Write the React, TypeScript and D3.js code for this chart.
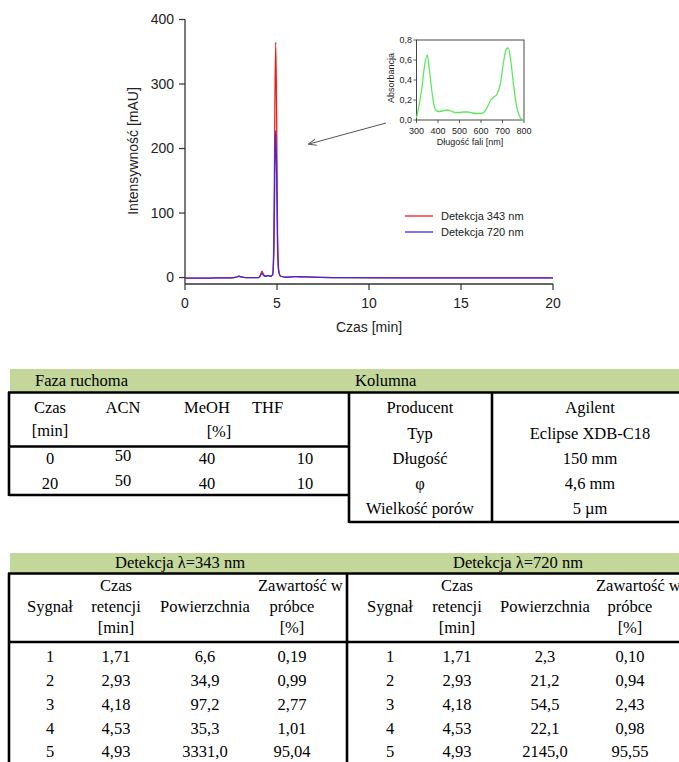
import React from "react";
import * as d3 from "d3";

// ---------- Chromatogram data ----------
const timeMin = [0, 1, 1.71, 2.5, 2.8, 2.93, 3.05, 3.3, 4.0, 4.1, 4.18, 4.28, 4.4, 4.53, 4.65, 4.76, 4.83, 4.88, 4.93, 4.98, 5.03, 5.1, 5.2, 5.5, 6.0, 6.5, 8.0, 12, 20];
const sig343 = [-1, -1, -0.5, -0.5, 0.5, 2, 1, 0, 0, 4, 10, 4, 2, 3, 2, 4, 60, 250, 365, 250, 70, 10, 2, 0.5, 1.5, 1, 0, -0.5, -0.5];
const sig720 = [-1, -1, -0.5, -0.5, 0.5, 2, 1, 0, 0, 3, 7, 3, 2, 3, 2, 4, 40, 160, 228, 160, 45, 8, 2, 0.5, 1.5, 1, 0, -0.5, -0.5];
const yTicks = [0, 100, 200, 300, 400];
const xTicks = [0, 5, 10, 15, 20];
const seriesNames = ["Detekcja 343 nm", "Detekcja 720 nm"];

// ---------- Inset spectrum ----------
const waveNm = [300, 312, 325, 338, 350, 360, 372, 385, 400, 420, 440, 460, 480, 500, 520, 540, 560, 580, 600, 615, 630, 645, 660, 675, 690, 705, 718, 726, 738, 750, 762, 775, 788, 800];
const absorb = [0.02, 0.15, 0.32, 0.55, 0.65, 0.5, 0.28, 0.12, 0.085, 0.09, 0.1, 0.09, 0.075, 0.075, 0.08, 0.08, 0.07, 0.065, 0.065, 0.08, 0.13, 0.2, 0.23, 0.26, 0.36, 0.58, 0.71, 0.72, 0.6, 0.38, 0.18, 0.06, 0.01, 0];
const insetYTicks = [0, 0.2, 0.4, 0.6, 0.8];
const insetXTicks = [300, 400, 500, 600, 700, 800];

// ---------- Table 1 ----------
const mobileHead = ["Czas", "ACN", "MeOH", "THF"];
const mobileRows = [["0", "50", "40", "10"], ["20", "50", "40", "10"]];
const columnKeys = ["Producent", "Typ", "Długość", "φ", "Wielkość porów"];
const columnVals = ["Agilent", "Eclipse XDB-C18", "150 mm", "4,6 mm", "5 µm"];

// ---------- Table 2 ----------
const det343 = [["1", "1,71", "6,6", "0,19"], ["2", "2,93", "34,9", "0,99"], ["3", "4,18", "97,2", "2,77"], ["4", "4,53", "35,3", "1,01"], ["5", "4,93", "3331,0", "95,04"]];
const det720 = [["1", "1,71", "2,3", "0,10"], ["2", "2,93", "21,2", "0,94"], ["3", "4,18", "54,5", "2,43"], ["4", "4,53", "22,1", "0,98"], ["5", "4,93", "2145,0", "95,55"]];

const RED = "#f01c1c";
const BLUE = "#3a2be0";
const GREEN_HDR = "#c4d79b";
const SANS = "'Liberation Sans', Arial, sans-serif";
const SERIF = "'Liberation Serif', 'Times New Roman', serif";

export default function App() {
  const x = d3.scaleLinear().domain([0, 20]).range([185, 553]);
  const y = d3.scaleLinear().domain([-10, 400]).range([284, 19.5]);
  const line = d3
    .line<number>()
    .x((_, i) => x(timeMin[i]))
    .curve(d3.curveMonotoneX);
  const red = line.y((d) => y(d))(sig343) as string;
  const blue = line.y((d) => y(d))(sig720) as string;

  const ix = d3.scaleLinear().domain([300, 800]).range([416.5, 524]);
  const iy = d3.scaleLinear().domain([0, 0.8]).range([120, 40]);
  const spec = d3
    .line<number>()
    .x((_, i) => ix(waveNm[i]))
    .y((d) => iy(d))
    .curve(d3.curveMonotoneX)(absorb) as string;
  const fmt = (v: number) => v.toFixed(1).replace(".", ",");

  const tStyle = { fontFamily: SERIF, fontSize: 16.5, fill: "#000" } as const;
  const bw = 2.6;

  const t2cols = [50, 116, 205, 292];
  const t2colsR = [390, 457, 545, 630];
  const t2rowsY = [657, 681, 705, 729, 752];

  return (
    <svg width={679} height={762} style={{ position: "absolute", left: 0, top: 0, background: "#fff" }}>
      <defs>
        <clipPath id="clipL">
          <rect x={0} y={540} width={345} height={230} />
        </clipPath>
        <marker id="arr" viewBox="0 0 10 10" refX={9} refY={5} markerWidth={8} markerHeight={8} orient="auto">
          <path d="M0,1 L10,5 L0,9" fill="none" stroke="#555" strokeWidth={1.2} />
        </marker>
      </defs>

      {/* ---------- Chromatogram ---------- */}
      <g fontFamily={SANS} fill="#222">
        <line x1={185} x2={185} y1={19.5} y2={284} stroke="#333" strokeWidth={1.3} />
        <line x1={185} x2={553} y1={284} y2={284} stroke="#333" strokeWidth={1.3} />
        {yTicks.map((t) => (
          <g key={t}>
            <line x1={179} x2={185} y1={y(t)} y2={y(t)} stroke="#333" strokeWidth={1.2} />
            <text x={174} y={y(t)} dy="0.35em" textAnchor="end" fontSize={14}>
              {t}
            </text>
          </g>
        ))}
        {xTicks.map((t) => (
          <g key={t}>
            <line x1={x(t)} x2={x(t)} y1={284} y2={290} stroke="#333" strokeWidth={1.2} />
            <text x={x(t)} y={303} dy="0.35em" textAnchor="middle" fontSize={14}>
              {t}
            </text>
          </g>
        ))}
        <text x={369} y={327} dy="0.35em" textAnchor="middle" fontSize={14}>
          Czas [min]
        </text>
        <text transform="translate(133,151) rotate(-90)" dy="0.35em" textAnchor="middle" fontSize={14}>
          Intensywność [mAU]
        </text>
        <path d={red} fill="none" stroke={RED} strokeWidth={1.3} />
        <path d={blue} fill="none" stroke={BLUE} strokeWidth={1.3} />

        {/* legend */}
        <line x1={405} x2={433} y1={216} y2={216} stroke={RED} strokeWidth={1.3} />
        <text x={441} y={216} dy="0.35em" fontSize={11}>
          {seriesNames[0]}
        </text>
        <line x1={405} x2={433} y1={232} y2={232} stroke={BLUE} strokeWidth={1.3} />
        <text x={441} y={232} dy="0.35em" fontSize={11}>
          {seriesNames[1]}
        </text>

        {/* arrow */}
        <line x1={386} y1={123} x2={309} y2={144} stroke="#555" strokeWidth={1} markerEnd="url(#arr)" />

        {/* inset */}
        <rect x={416.5} y={40} width={107.5} height={80} fill="none" stroke="#333" strokeWidth={0.9} />
        {insetYTicks.map((t) => (
          <g key={t}>
            <line x1={413.5} x2={416.5} y1={iy(t)} y2={iy(t)} stroke="#333" strokeWidth={0.8} />
            <text x={412} y={iy(t)} dy="0.35em" textAnchor="end" fontSize={9}>
              {fmt(t)}
            </text>
          </g>
        ))}
        {insetXTicks.map((t) => (
          <g key={t}>
            <line x1={ix(t)} x2={ix(t)} y1={120} y2={123} stroke="#333" strokeWidth={0.8} />
            <text x={ix(t)} y={131} dy="0.35em" textAnchor="middle" fontSize={9}>
              {t}
            </text>
          </g>
        ))}
        <text x={470} y={142} dy="0.35em" textAnchor="middle" fontSize={9}>
          Długość fali [nm]
        </text>
        <text transform="translate(391,78) rotate(-90)" dy="0.35em" textAnchor="middle" fontSize={9}>
          Absorbancja
        </text>
        <path d={spec} fill="none" stroke="#5fe85f" strokeWidth={1.3} />
      </g>

      {/* ---------- Table 1 ---------- */}
      <g>
        <rect x={10} y={369} width={669} height={23} fill={GREEN_HDR} />
        <text x={35} y={381} dy="0.33em" {...tStyle}>Faza ruchoma</text>
        <text x={355} y={381} dy="0.33em" {...tStyle}>Kolumna</text>
        <line x1={8} x2={679} y1={392.5} y2={392.5} stroke="#000" strokeWidth={bw} />
        <line x1={9} x2={9} y1={392} y2={496} stroke="#000" strokeWidth={bw} />
        <line x1={9} x2={349} y1={446.5} y2={446.5} stroke="#000" strokeWidth={bw} />
        <line x1={9} x2={349} y1={495} y2={495} stroke="#000" strokeWidth={bw} />
        <line x1={349} x2={349} y1={392} y2={523} stroke="#000" strokeWidth={bw} />
        <line x1={492} x2={492} y1={392} y2={523} stroke="#000" strokeWidth={bw} />
        <line x1={349} x2={679} y1={522} y2={522} stroke="#000" strokeWidth={bw} />

        <text x={50} y={408} dy="0.33em" textAnchor="middle" {...tStyle}>{mobileHead[0]}</text>
        <text x={123} y={408} dy="0.33em" textAnchor="middle" {...tStyle}>{mobileHead[1]}</text>
        <text x={207} y={408} dy="0.33em" textAnchor="middle" {...tStyle}>{mobileHead[2]}</text>
        <text x={252} y={408} dy="0.33em" {...tStyle}>{mobileHead[3]}</text>
        <text x={50} y={431} dy="0.33em" textAnchor="middle" {...tStyle}>[min]</text>
        <text x={219} y={432} dy="0.33em" textAnchor="middle" {...tStyle}>[%]</text>
        {mobileRows.map((r, i) => (
          <g key={i}>
            <text x={50} y={459 + i * 24.5} dy="0.33em" textAnchor="middle" {...tStyle}>{r[0]}</text>
            <text x={123} y={456 + i * 24.5} dy="0.33em" textAnchor="middle" {...tStyle}>{r[1]}</text>
            <text x={207} y={459 + i * 24.5} dy="0.33em" textAnchor="middle" {...tStyle}>{r[2]}</text>
            <text x={305} y={459 + i * 24.5} dy="0.33em" textAnchor="middle" {...tStyle}>{r[3]}</text>
          </g>
        ))}
        {columnKeys.map((k, i) => (
          <g key={k}>
            <text x={420} y={408 + i * 25.2} dy="0.33em" textAnchor="middle" {...tStyle}>{k}</text>
            <text x={590} y={408 + i * 25.2} dy="0.33em" textAnchor="middle" {...tStyle}>{columnVals[i]}</text>
          </g>
        ))}
      </g>

      {/* ---------- Table 2 ---------- */}
      <g>
        <rect x={10} y={553} width={669} height={20} fill={GREEN_HDR} />
        <text x={180} y={563} dy="0.33em" textAnchor="middle" {...tStyle}>Detekcja λ=343 nm</text>
        <text x={518} y={563} dy="0.33em" textAnchor="middle" {...tStyle}>Detekcja λ=720 nm</text>
        <line x1={8} x2={679} y1={573.5} y2={573.5} stroke="#000" strokeWidth={bw} />
        <line x1={9} x2={9} y1={573} y2={762} stroke="#000" strokeWidth={bw} />
        <line x1={9} x2={679} y1={642} y2={642} stroke="#000" strokeWidth={bw} />
        <line x1={347} x2={347} y1={573} y2={762} stroke="#000" strokeWidth={bw} />

        {[
          { cols: t2cols, rows: det343, clip: "url(#clipL)" },
          { cols: t2colsR, rows: det720, clip: undefined },
        ].map((blk, bi) => (
          <g key={bi} clipPath={blk.clip}>
            <text x={blk.cols[1]} y={586} dy="0.33em" textAnchor="middle" {...tStyle}>Czas</text>
            <text x={blk.cols[3] - 34} y={586} dy="0.33em" {...tStyle}>Zawartość w</text>
            <text x={blk.cols[0]} y={607} dy="0.33em" textAnchor="middle" {...tStyle}>Sygnał</text>
            <text x={blk.cols[1]} y={607} dy="0.33em" textAnchor="middle" {...tStyle}>retencji</text>
            <text x={blk.cols[2]} y={607} dy="0.33em" textAnchor="middle" {...tStyle}>Powierzchnia</text>
            <text x={blk.cols[3]} y={607} dy="0.33em" textAnchor="middle" {...tStyle}>próbce</text>
            <text x={blk.cols[1]} y={628} dy="0.33em" textAnchor="middle" {...tStyle}>[min]</text>
            <text x={blk.cols[3]} y={628} dy="0.33em" textAnchor="middle" {...tStyle}>[%]</text>
            {blk.rows.map((r, i) =>
              r.map((c, j) => (
                <text key={i + "-" + j} x={blk.cols[j]} y={t2rowsY[i]} dy="0.33em" textAnchor="middle" {...tStyle}>
                  {c}
                </text>
              ))
            )}
          </g>
        ))}
      </g>
    </svg>
  );
}
